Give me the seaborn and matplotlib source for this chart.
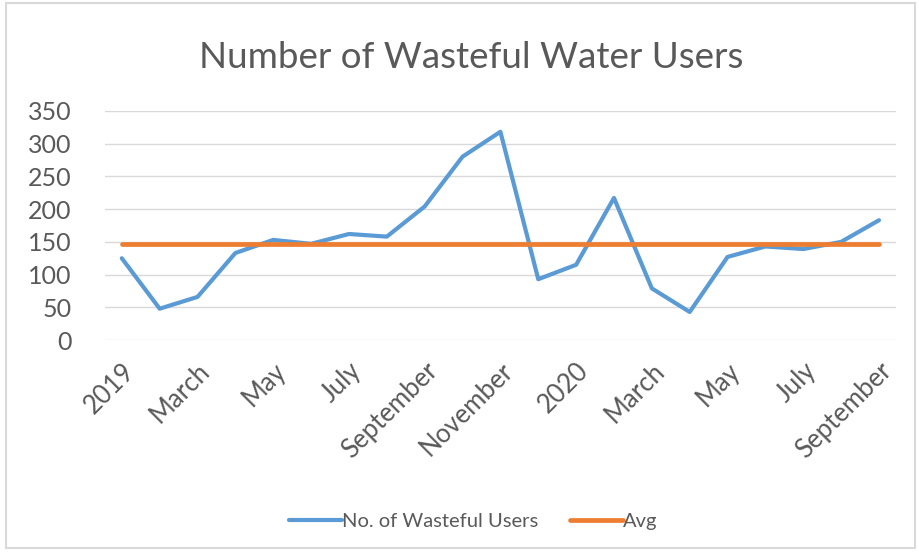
import matplotlib
matplotlib.use("Agg")
import matplotlib.pyplot as plt
import seaborn as sns
import pandas as pd
from matplotlib.patches import Rectangle

months = ["2019", "February", "March", "April", "May", "June", "July", "August",
          "September", "October", "November", "December", "2020", "February",
          "March", "April", "May", "June", "July", "August", "September"]
users = [125, 48, 66, 133, 153, 147, 162, 158, 204, 280, 318, 93, 115, 217,
         79, 43, 127, 143, 139, 150, 183]
avg_value = 147

sns.set_theme(style="white")
plt.rcParams["font.family"] = ["Lato", "DejaVu Sans"]

df = pd.DataFrame({"idx": range(len(months)), "month": months, "users": users,
                   "avg": [avg_value] * len(months)})

fig = plt.figure(figsize=(9.19, 5.54), dpi=100)
ax = fig.add_axes([0.114, 0.386, 0.861, 0.414])

sns.lineplot(data=df, x="idx", y="users", ax=ax, color="#5B9BD5", linewidth=3.0,
             label="No. of Wasteful Users")
sns.lineplot(data=df, x="idx", y="avg", ax=ax, color="#ED7D31", linewidth=3.4,
             label="Avg")

ax.set_ylim(0, 350)
ax.set_yticks(range(0, 351, 50))
ax.set_xlim(-0.45, len(months) - 0.55)
ax.yaxis.grid(True, color="#D9D9D9", linewidth=1)
ax.set_axisbelow(True)
for s in ax.spines.values():
    s.set_visible(False)

ticks = list(range(0, len(months), 2))
ax.set_xticks(ticks)
ax.set_xticklabels([months[i] for i in ticks], rotation=45, ha="right",
                   rotation_mode="anchor", fontsize=18.5, color="#595959")
ax.tick_params(axis="y", labelsize=18, colors="#595959", length=0, pad=24)
ax.tick_params(axis="x", length=0, pad=13)
ax.set_xlabel("")
ax.set_ylabel("")

fig.text(0.513, 0.896, "Number of Wasteful Water Users", ha="center", va="center",
         fontsize=26.5, color="#595959")

ax.legend_.remove()
handles, labels = ax.get_legend_handles_labels()
fig.legend(handles, labels, loc="center", bbox_to_anchor=(0.515, 0.058), ncol=2,
           frameon=False, fontsize=14.5, labelcolor="#595959", handlelength=2.6,
           handletextpad=0.0, columnspacing=1.6)

fig.patches.append(Rectangle((0.006, 0.01), 0.99, 0.985, transform=fig.transFigure,
                             fill=False, edgecolor="#D9D9D9", linewidth=1.5))

fig.savefig("out.png", dpi=100, facecolor="white")
